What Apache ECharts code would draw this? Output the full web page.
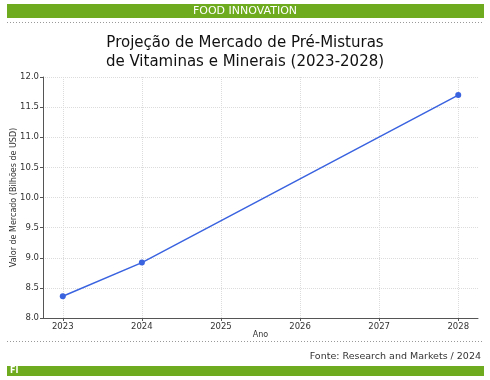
<!DOCTYPE html>
<html><head><meta charset="utf-8">
<script src="https://cdn.jsdelivr.net/npm/echarts@6/dist/echarts.min.js"></script>
<style>html,body{margin:0;padding:0;background:#fff}#c{width:490px;height:380px}</style>
</head><body><div id="c"></div>
<script>
const years = [2023, 2024, 2025, 2026, 2027, 2028];
const values = [8.36, 8.92, null, null, null, 11.7];
const yTicks = [8.0, 8.5, 9.0, 9.5, 10.0, 10.5, 11.0, 11.5, 12.0];
const titleLines = ['Projeção de Mercado de Pré-Misturas', 'de Vitaminas e Minerais (2023-2028)'];
const header = 'FOOD INNOVATION';
const source = 'Fonte: Research and Markets / 2024';
const footerTag = 'FI';

const green = '#6fab1e';
const font = 'DejaVu Sans';
const chart = echarts.init(document.getElementById('c'), null, {renderer: 'canvas'});
chart.setOption({
  animation: false,
  textStyle: {fontFamily: font},
  title: {
    text: titleLines.join('\n'),
    left: 'center', top: 29,
    textStyle: {fontFamily: font, fontSize: 15, fontWeight: 'normal', color: '#111', lineHeight: 19}
  },
  grid: {left: 43, right: 12, top: 77, bottom: 62, containLabel: false, outerBoundsMode: 'none'},
  xAxis: {
    type: 'value', min: 2022.75, max: 2028.25,
    name: 'Ano', nameLocation: 'middle', nameGap: 13, nameMoveOverlap: false,
    nameTextStyle: {fontSize: 8, color: '#333'},
    axisLine: {lineStyle: {color: '#555', width: 1}},
    axisTick: {show: true, customValues: years, length: 3, lineStyle: {color: '#555'}},
    axisLabel: {customValues: years, fontSize: 8.5, color: '#333', margin: 4, formatter: v => String(v)},
    splitLine: {show: true, lineStyle: {color: '#dcdcdc', type: 'dotted'}}
  },
  yAxis: {
    type: 'value', min: 8, max: 12, interval: 0.5,
    name: 'Valor de Mercado (Bilhões de USD)', nameLocation: 'middle', nameGap: 25, nameMoveOverlap: false,
    nameTextStyle: {fontSize: 8, color: '#333'},
    axisLine: {show: true, lineStyle: {color: '#555', width: 1}},
    axisTick: {show: true, length: 3, lineStyle: {color: '#555'}},
    axisLabel: {fontSize: 8.5, color: '#333', margin: 4, formatter: v => yTicks.includes(v) ? v.toFixed(1) : ''},
    splitLine: {show: true, lineStyle: {color: '#dcdcdc', type: 'dotted'}}
  },
  series: [{
    type: 'line',
    data: years.map((y, i) => [y, values[i]]),
    connectNulls: true,
    symbol: 'circle', symbolSize: 6,
    lineStyle: {color: '#3a63e0', width: 1.5},
    itemStyle: {color: '#3a63e0'}
  }],
  graphic: [
    {type: 'rect', shape: {x: 7, y: 4, width: 477, height: 14}, style: {fill: green}},
    {type: 'text', x: 245, y: 11, style: {text: header, fill: '#fff', font: '11px ' + font, textAlign: 'center', textVerticalAlign: 'middle'}},
    {type: 'line', shape: {x1: 7, y1: 22.5, x2: 484, y2: 22.5}, style: {stroke: '#999', lineWidth: 1, lineDash: [1, 2]}},
    {type: 'line', shape: {x1: 7, y1: 341.5, x2: 484, y2: 341.5}, style: {stroke: '#999', lineWidth: 1, lineDash: [1, 2]}},
    {type: 'text', x: 481, y: 357, style: {text: source, fill: '#333', font: '9.5px ' + font, textAlign: 'right', textVerticalAlign: 'middle'}},
    {type: 'rect', shape: {x: 7, y: 366, width: 477, height: 10}, style: {fill: green}},
    {type: 'text', x: 10, y: 371, style: {text: footerTag, fill: '#fff', font: 'bold 8px ' + font, textAlign: 'left', textVerticalAlign: 'middle'}}
  ]
});
</script></body></html>
